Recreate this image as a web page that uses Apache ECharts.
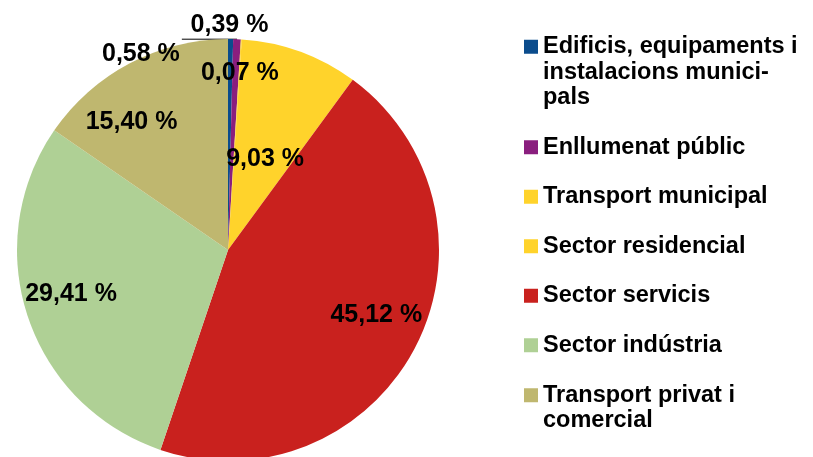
<!DOCTYPE html>
<html>
<head>
<meta charset="utf-8">
<script src="https://cdn.jsdelivr.net/npm/echarts@6/dist/echarts.min.js"></script>
<style>
  html, body { margin: 0; padding: 0; background: #fff; }
  #chart { width: 813px; height: 457px; }
</style>
</head>
<body>
<div id="chart"></div>
<script>
const categories = [
  'Edificis, equipaments i instalacions municipals',
  'Enllumenat públic',
  'Transport municipal',
  'Sector residencial',
  'Sector servicis',
  'Sector indústria',
  'Transport privat i comercial'
];
// legend text as wrapped in the original; the leading blank lines keep the
// square level with the first line (legend centres text on the icon)
const legendText = [
  '\n\nEdificis, equipaments i\ninstalacions munici-\npals',
  'Enllumenat públic',
  'Transport municipal',
  'Sector residencial',
  'Sector servicis',
  'Sector indústria',
  '\nTransport privat i\ncomercial'
];
const shares = [0.39, 0.58, 0.07, 9.03, 45.12, 29.41, 15.40];
const colors = ['#0B4C8C', '#8A1E7E', '#FFD32B', '#FFD32B', '#C9211E', '#AFD095', '#BFB76F'];
// nudges from the default label spot, the labels were hand placed in the original
const labelShift = [[-55, -14], [-150, 15], [5, -69], [0, 11], [52, 15], [-54, 10], [-46, -32]];

const font = '"Liberation Sans", Arial, sans-serif';
const chart = echarts.init(document.getElementById('chart'));

const pieData = categories.map((name, i) => ({
  name: name,
  value: shares[i],
  itemStyle: { color: colors[i] },
  label: { position: i < 2 ? 'outside' : 'inside' },
  labelLine: { show: i === 1, length: 0, length2: 10 }
}));

const legendBase = {
  orient: 'vertical',
  left: 524,
  padding: 0,
  itemWidth: 14,
  itemHeight: 14,
  itemGap: 24,
  icon: 'rect',
  selectedMode: false,
  formatter: name => legendText[categories.indexOf(name)],
  textStyle: {
    fontFamily: font,
    fontWeight: 'bold',
    fontSize: 23.5,
    lineHeight: 25.5,
    color: '#000'
  }
};

chart.setOption({
  animation: false,
  legend: [
    Object.assign({}, legendBase, { top: -17, data: categories.slice(0, 6) }),
    Object.assign({}, legendBase, { top: 357, data: categories.slice(6) })
  ],
  series: [{
    type: 'pie',
    center: [228, 250],
    radius: 211,
    startAngle: 90,
    clockwise: true,
    avoidLabelOverlap: false,
    data: pieData,
    itemStyle: { borderWidth: 0 },
    label: {
      color: '#000',
      fontFamily: font,
      fontWeight: 'bold',
      fontSize: 25,
      formatter: p => p.value.toFixed(2).replace('.', ',') + ' %'
    },
    labelLine: { lineStyle: { color: '#000', width: 1 } },
    labelLayout: p => {
      const [dx, dy] = labelShift[p.dataIndex];
      const out = { dx: dx, dy: dy };
      // leader line runs flat from the slice tip to the moved label
      if (p.labelLinePoints) {
        const tip = p.labelLinePoints[0];
        const endX = p.labelRect.x + dx + p.labelRect.width + 2;
        out.labelLinePoints = [[tip[0], tip[1]], [endX, tip[1]]];
      }
      return out;
    }
  }]
});
</script>
</body>
</html>
